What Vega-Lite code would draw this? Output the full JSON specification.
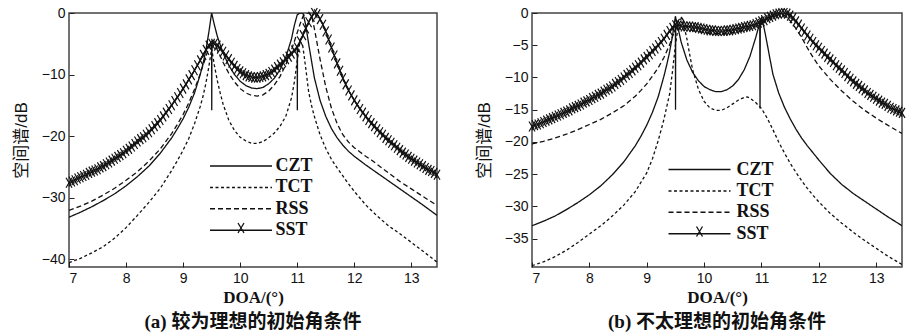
{
"$schema":"https://vega.github.io/schema/vega-lite/v6.json",
"background":"white",
"padding":{"left":11,"top":4,"right":2,"bottom":2},
"config":{
 "view":{"stroke":"#444","strokeWidth":1.5},
 "axis":{"grid":false,"domain":false,"tickColor":"#222","tickSize":-5,"labelPadding":9,"labelFont":"Liberation Sans","labelFontSize":14,"labelColor":"#111","titleColor":"#111"}
},
"datasets":{
"a":[
{"s":"CZT","x":7.0,"y":-33.2},{"s":"CZT","x":7.2,"y":-32.4},{"s":"CZT","x":7.4,"y":-31.5},{"s":"CZT","x":7.6,"y":-30.5},{"s":"CZT","x":7.8,"y":-29.4},{"s":"CZT","x":8.0,"y":-28.1},{"s":"CZT","x":8.2,"y":-26.6},{"s":"CZT","x":8.4,"y":-24.9},{"s":"CZT","x":8.6,"y":-22.8},{"s":"CZT","x":8.8,"y":-20.3},{"s":"CZT","x":8.9,"y":-18.8},{"s":"CZT","x":9.0,"y":-17.2},{"s":"CZT","x":9.1,"y":-15.3},{"s":"CZT","x":9.2,"y":-13.0},{"s":"CZT","x":9.3,"y":-10.0},{"s":"CZT","x":9.35,"y":-8.2},{"s":"CZT","x":9.4,"y":-6.0},{"s":"CZT","x":9.45,"y":-3.2},{"s":"CZT","x":9.5,"y":0},{"s":"CZT","x":9.55,"y":-2.0},{"s":"CZT","x":9.6,"y":-3.8},{"s":"CZT","x":9.7,"y":-6.5},{"s":"CZT","x":9.8,"y":-8.5},{"s":"CZT","x":9.9,"y":-10.0},{"s":"CZT","x":10.0,"y":-11.1},{"s":"CZT","x":10.1,"y":-11.8},{"s":"CZT","x":10.2,"y":-12.2},{"s":"CZT","x":10.3,"y":-12.3},{"s":"CZT","x":10.4,"y":-12.1},{"s":"CZT","x":10.5,"y":-11.5},{"s":"CZT","x":10.6,"y":-10.6},{"s":"CZT","x":10.7,"y":-9.2},{"s":"CZT","x":10.8,"y":-7.2},{"s":"CZT","x":10.9,"y":-4.2},{"s":"CZT","x":10.95,"y":-2.0},{"s":"CZT","x":11.0,"y":-0.3},{"s":"CZT","x":11.05,"y":0},{"s":"CZT","x":11.1,"y":0},{"s":"CZT","x":11.15,"y":-2.0},{"s":"CZT","x":11.2,"y":-5.0},{"s":"CZT","x":11.3,"y":-10.5},{"s":"CZT","x":11.4,"y":-14.2},{"s":"CZT","x":11.5,"y":-16.8},{"s":"CZT","x":11.6,"y":-18.8},{"s":"CZT","x":11.7,"y":-20.3},{"s":"CZT","x":11.8,"y":-21.5},{"s":"CZT","x":11.9,"y":-22.5},{"s":"CZT","x":12.0,"y":-23.3},{"s":"CZT","x":12.2,"y":-24.7},{"s":"CZT","x":12.4,"y":-26.0},{"s":"CZT","x":12.6,"y":-27.3},{"s":"CZT","x":12.8,"y":-28.6},{"s":"CZT","x":13.0,"y":-29.9},{"s":"CZT","x":13.2,"y":-31.2},{"s":"CZT","x":13.45,"y":-32.9},
{"s":"TCT","x":7.0,"y":-40.6},{"s":"TCT","x":7.2,"y":-39.9},{"s":"TCT","x":7.4,"y":-39.0},{"s":"TCT","x":7.6,"y":-38.0},{"s":"TCT","x":7.8,"y":-36.6},{"s":"TCT","x":8.0,"y":-34.9},{"s":"TCT","x":8.2,"y":-32.9},{"s":"TCT","x":8.4,"y":-30.8},{"s":"TCT","x":8.6,"y":-28.5},{"s":"TCT","x":8.8,"y":-25.6},{"s":"TCT","x":8.9,"y":-24.0},{"s":"TCT","x":9.0,"y":-22.3},{"s":"TCT","x":9.1,"y":-20.4},{"s":"TCT","x":9.2,"y":-18.0},{"s":"TCT","x":9.3,"y":-15.2},{"s":"TCT","x":9.35,"y":-13.5},{"s":"TCT","x":9.4,"y":-11.4},{"s":"TCT","x":9.45,"y":-8.8},{"s":"TCT","x":9.5,"y":-5.8},{"s":"TCT","x":9.55,"y":-8.6},{"s":"TCT","x":9.6,"y":-11.0},{"s":"TCT","x":9.65,"y":-13.0},{"s":"TCT","x":9.7,"y":-14.8},{"s":"TCT","x":9.8,"y":-17.4},{"s":"TCT","x":9.9,"y":-19.1},{"s":"TCT","x":10.0,"y":-20.2},{"s":"TCT","x":10.1,"y":-20.8},{"s":"TCT","x":10.2,"y":-21.2},{"s":"TCT","x":10.3,"y":-21.2},{"s":"TCT","x":10.4,"y":-20.9},{"s":"TCT","x":10.5,"y":-20.3},{"s":"TCT","x":10.6,"y":-19.5},{"s":"TCT","x":10.7,"y":-18.4},{"s":"TCT","x":10.8,"y":-16.8},{"s":"TCT","x":10.9,"y":-13.8},{"s":"TCT","x":10.95,"y":-11.2},{"s":"TCT","x":11.0,"y":-7.8},{"s":"TCT","x":11.05,"y":-4.5},{"s":"TCT","x":11.1,"y":-5.5},{"s":"TCT","x":11.15,"y":-9.0},{"s":"TCT","x":11.2,"y":-12.8},{"s":"TCT","x":11.25,"y":-15.0},{"s":"TCT","x":11.3,"y":-16.8},{"s":"TCT","x":11.4,"y":-19.8},{"s":"TCT","x":11.5,"y":-22.0},{"s":"TCT","x":11.6,"y":-23.8},{"s":"TCT","x":11.7,"y":-25.2},{"s":"TCT","x":11.8,"y":-26.5},{"s":"TCT","x":11.9,"y":-27.8},{"s":"TCT","x":12.0,"y":-29.0},{"s":"TCT","x":12.2,"y":-31.2},{"s":"TCT","x":12.4,"y":-33.0},{"s":"TCT","x":12.6,"y":-34.6},{"s":"TCT","x":12.8,"y":-35.9},{"s":"TCT","x":13.0,"y":-37.3},{"s":"TCT","x":13.2,"y":-38.7},{"s":"TCT","x":13.45,"y":-40.5},
{"s":"RSS","x":7.0,"y":-32.1},{"s":"RSS","x":7.2,"y":-31.4},{"s":"RSS","x":7.4,"y":-30.6},{"s":"RSS","x":7.6,"y":-29.6},{"s":"RSS","x":7.8,"y":-28.5},{"s":"RSS","x":8.0,"y":-27.2},{"s":"RSS","x":8.2,"y":-25.8},{"s":"RSS","x":8.4,"y":-24.1},{"s":"RSS","x":8.6,"y":-22.1},{"s":"RSS","x":8.8,"y":-19.6},{"s":"RSS","x":8.9,"y":-18.1},{"s":"RSS","x":9.0,"y":-16.5},{"s":"RSS","x":9.1,"y":-14.6},{"s":"RSS","x":9.2,"y":-12.4},{"s":"RSS","x":9.3,"y":-9.9},{"s":"RSS","x":9.4,"y":-7.1},{"s":"RSS","x":9.45,"y":-5.6},{"s":"RSS","x":9.5,"y":-4.5},{"s":"RSS","x":9.55,"y":-5.0},{"s":"RSS","x":9.6,"y":-6.0},{"s":"RSS","x":9.7,"y":-8.0},{"s":"RSS","x":9.8,"y":-9.8},{"s":"RSS","x":9.9,"y":-11.2},{"s":"RSS","x":10.0,"y":-12.3},{"s":"RSS","x":10.1,"y":-13.0},{"s":"RSS","x":10.2,"y":-13.4},{"s":"RSS","x":10.3,"y":-13.5},{"s":"RSS","x":10.4,"y":-13.3},{"s":"RSS","x":10.5,"y":-12.7},{"s":"RSS","x":10.6,"y":-11.7},{"s":"RSS","x":10.7,"y":-10.3},{"s":"RSS","x":10.8,"y":-8.4},{"s":"RSS","x":10.9,"y":-6.0},{"s":"RSS","x":11.0,"y":-3.2},{"s":"RSS","x":11.05,"y":-1.8},{"s":"RSS","x":11.1,"y":-0.6},{"s":"RSS","x":11.15,"y":0},{"s":"RSS","x":11.2,"y":0},{"s":"RSS","x":11.25,"y":-0.3},{"s":"RSS","x":11.3,"y":-2.5},{"s":"RSS","x":11.4,"y":-7.5},{"s":"RSS","x":11.5,"y":-12.0},{"s":"RSS","x":11.6,"y":-15.5},{"s":"RSS","x":11.7,"y":-18.0},{"s":"RSS","x":11.8,"y":-19.8},{"s":"RSS","x":11.9,"y":-21.0},{"s":"RSS","x":12.0,"y":-21.9},{"s":"RSS","x":12.1,"y":-22.6},{"s":"RSS","x":12.2,"y":-23.3},{"s":"RSS","x":12.3,"y":-23.9},{"s":"RSS","x":12.4,"y":-24.6},{"s":"RSS","x":12.6,"y":-26.0},{"s":"RSS","x":12.8,"y":-27.4},{"s":"RSS","x":13.0,"y":-28.6},{"s":"RSS","x":13.2,"y":-29.8},{"s":"RSS","x":13.45,"y":-31.3},
{"s":"SST","x":7.0,"y":-27.6},{"s":"SST","x":7.05,"y":-27.4},{"s":"SST","x":7.1,"y":-27.2},{"s":"SST","x":7.15,"y":-26.9},{"s":"SST","x":7.2,"y":-26.7},{"s":"SST","x":7.25,"y":-26.5},{"s":"SST","x":7.3,"y":-26.3},{"s":"SST","x":7.35,"y":-26.0},{"s":"SST","x":7.4,"y":-25.8},{"s":"SST","x":7.45,"y":-25.6},{"s":"SST","x":7.5,"y":-25.4},{"s":"SST","x":7.55,"y":-25.1},{"s":"SST","x":7.6,"y":-24.9},{"s":"SST","x":7.65,"y":-24.6},{"s":"SST","x":7.7,"y":-24.3},{"s":"SST","x":7.75,"y":-24.0},{"s":"SST","x":7.8,"y":-23.7},{"s":"SST","x":7.85,"y":-23.4},{"s":"SST","x":7.9,"y":-23.1},{"s":"SST","x":7.95,"y":-22.8},{"s":"SST","x":8.0,"y":-22.4},{"s":"SST","x":8.05,"y":-22.1},{"s":"SST","x":8.1,"y":-21.7},{"s":"SST","x":8.15,"y":-21.3},{"s":"SST","x":8.2,"y":-20.9},{"s":"SST","x":8.25,"y":-20.5},{"s":"SST","x":8.3,"y":-20.2},{"s":"SST","x":8.35,"y":-19.8},{"s":"SST","x":8.4,"y":-19.4},{"s":"SST","x":8.45,"y":-18.9},{"s":"SST","x":8.5,"y":-18.4},{"s":"SST","x":8.55,"y":-17.9},{"s":"SST","x":8.6,"y":-17.4},{"s":"SST","x":8.65,"y":-16.8},{"s":"SST","x":8.7,"y":-16.2},{"s":"SST","x":8.75,"y":-15.6},{"s":"SST","x":8.8,"y":-15.0},{"s":"SST","x":8.85,"y":-14.3},{"s":"SST","x":8.9,"y":-13.7},{"s":"SST","x":8.95,"y":-13.0},{"s":"SST","x":9.0,"y":-12.3},{"s":"SST","x":9.05,"y":-11.6},{"s":"SST","x":9.1,"y":-10.8},{"s":"SST","x":9.15,"y":-10.1},{"s":"SST","x":9.2,"y":-9.3},{"s":"SST","x":9.25,"y":-8.5},{"s":"SST","x":9.3,"y":-7.7},{"s":"SST","x":9.35,"y":-6.8},{"s":"SST","x":9.4,"y":-6.0},{"s":"SST","x":9.45,"y":-5.3},{"s":"SST","x":9.5,"y":-5.0},{"s":"SST","x":9.502,"y":-15.8},{"s":"SST","x":9.505,"y":-5.0},{"s":"SST","x":9.55,"y":-5.0},{"s":"SST","x":9.6,"y":-5.3},{"s":"SST","x":9.65,"y":-5.8},{"s":"SST","x":9.7,"y":-6.3},{"s":"SST","x":9.75,"y":-6.9},{"s":"SST","x":9.8,"y":-7.5},{"s":"SST","x":9.85,"y":-8.1},{"s":"SST","x":9.9,"y":-8.6},{"s":"SST","x":9.95,"y":-9.1},{"s":"SST","x":10.0,"y":-9.5},{"s":"SST","x":10.05,"y":-9.8},{"s":"SST","x":10.1,"y":-10.1},{"s":"SST","x":10.15,"y":-10.3},{"s":"SST","x":10.2,"y":-10.4},{"s":"SST","x":10.25,"y":-10.5},{"s":"SST","x":10.3,"y":-10.5},{"s":"SST","x":10.35,"y":-10.4},{"s":"SST","x":10.4,"y":-10.3},{"s":"SST","x":10.45,"y":-10.1},{"s":"SST","x":10.5,"y":-9.9},{"s":"SST","x":10.55,"y":-9.6},{"s":"SST","x":10.6,"y":-9.2},{"s":"SST","x":10.65,"y":-8.8},{"s":"SST","x":10.7,"y":-8.4},{"s":"SST","x":10.75,"y":-8.0},{"s":"SST","x":10.8,"y":-7.5},{"s":"SST","x":10.85,"y":-7.1},{"s":"SST","x":10.9,"y":-6.6},{"s":"SST","x":10.95,"y":-6.1},{"s":"SST","x":11.0,"y":-5.6},{"s":"SST","x":11.002,"y":-15.8},{"s":"SST","x":11.005,"y":-5.6},{"s":"SST","x":11.05,"y":-4.6},{"s":"SST","x":11.1,"y":-3.6},{"s":"SST","x":11.15,"y":-2.5},{"s":"SST","x":11.2,"y":-1.5},{"s":"SST","x":11.25,"y":-0.6},{"s":"SST","x":11.3,"y":0},{"s":"SST","x":11.35,"y":-0.2},{"s":"SST","x":11.4,"y":-1.0},{"s":"SST","x":11.45,"y":-1.9},{"s":"SST","x":11.5,"y":-3.0},{"s":"SST","x":11.55,"y":-4.3},{"s":"SST","x":11.6,"y":-5.6},{"s":"SST","x":11.65,"y":-6.9},{"s":"SST","x":11.7,"y":-8.2},{"s":"SST","x":11.75,"y":-9.4},{"s":"SST","x":11.8,"y":-10.6},{"s":"SST","x":11.85,"y":-11.6},{"s":"SST","x":11.9,"y":-12.6},{"s":"SST","x":11.95,"y":-13.4},{"s":"SST","x":12.0,"y":-14.2},{"s":"SST","x":12.05,"y":-14.9},{"s":"SST","x":12.1,"y":-15.6},{"s":"SST","x":12.15,"y":-16.2},{"s":"SST","x":12.2,"y":-16.8},{"s":"SST","x":12.25,"y":-17.4},{"s":"SST","x":12.3,"y":-17.9},{"s":"SST","x":12.35,"y":-18.4},{"s":"SST","x":12.4,"y":-18.9},{"s":"SST","x":12.45,"y":-19.4},{"s":"SST","x":12.5,"y":-19.8},{"s":"SST","x":12.55,"y":-20.3},{"s":"SST","x":12.6,"y":-20.7},{"s":"SST","x":12.65,"y":-21.1},{"s":"SST","x":12.7,"y":-21.5},{"s":"SST","x":12.75,"y":-21.9},{"s":"SST","x":12.8,"y":-22.3},{"s":"SST","x":12.85,"y":-22.7},{"s":"SST","x":12.9,"y":-23.0},{"s":"SST","x":12.95,"y":-23.4},{"s":"SST","x":13.0,"y":-23.7},{"s":"SST","x":13.05,"y":-24.0},{"s":"SST","x":13.1,"y":-24.3},{"s":"SST","x":13.15,"y":-24.6},{"s":"SST","x":13.2,"y":-24.9},{"s":"SST","x":13.25,"y":-25.2},{"s":"SST","x":13.3,"y":-25.5},{"s":"SST","x":13.35,"y":-25.7},{"s":"SST","x":13.4,"y":-26.0},{"s":"SST","x":13.45,"y":-26.3}
],
"b":[
{"s":"CZT","x":7.0,"y":-33.0},{"s":"CZT","x":7.2,"y":-32.3},{"s":"CZT","x":7.4,"y":-31.5},{"s":"CZT","x":7.6,"y":-30.5},{"s":"CZT","x":7.8,"y":-29.4},{"s":"CZT","x":8.0,"y":-28.2},{"s":"CZT","x":8.2,"y":-26.8},{"s":"CZT","x":8.4,"y":-25.1},{"s":"CZT","x":8.6,"y":-23.1},{"s":"CZT","x":8.8,"y":-20.6},{"s":"CZT","x":8.9,"y":-19.1},{"s":"CZT","x":9.0,"y":-17.4},{"s":"CZT","x":9.1,"y":-15.4},{"s":"CZT","x":9.2,"y":-13.0},{"s":"CZT","x":9.3,"y":-9.8},{"s":"CZT","x":9.35,"y":-8.0},{"s":"CZT","x":9.4,"y":-6.0},{"s":"CZT","x":9.45,"y":-3.5},{"s":"CZT","x":9.5,"y":-0.5},{"s":"CZT","x":9.55,"y":-2.5},{"s":"CZT","x":9.6,"y":-4.5},{"s":"CZT","x":9.7,"y":-7.3},{"s":"CZT","x":9.8,"y":-9.2},{"s":"CZT","x":9.9,"y":-10.5},{"s":"CZT","x":10.0,"y":-11.4},{"s":"CZT","x":10.1,"y":-11.9},{"s":"CZT","x":10.2,"y":-12.2},{"s":"CZT","x":10.3,"y":-12.2},{"s":"CZT","x":10.4,"y":-11.9},{"s":"CZT","x":10.5,"y":-11.3},{"s":"CZT","x":10.6,"y":-10.3},{"s":"CZT","x":10.7,"y":-8.8},{"s":"CZT","x":10.8,"y":-6.7},{"s":"CZT","x":10.9,"y":-3.8},{"s":"CZT","x":10.95,"y":-2.2},{"s":"CZT","x":11.0,"y":-0.8},{"s":"CZT","x":11.05,"y":-2.5},{"s":"CZT","x":11.1,"y":-4.8},{"s":"CZT","x":11.15,"y":-7.2},{"s":"CZT","x":11.2,"y":-9.5},{"s":"CZT","x":11.3,"y":-12.4},{"s":"CZT","x":11.4,"y":-14.6},{"s":"CZT","x":11.5,"y":-16.4},{"s":"CZT","x":11.6,"y":-18.0},{"s":"CZT","x":11.7,"y":-19.4},{"s":"CZT","x":11.8,"y":-20.6},{"s":"CZT","x":11.9,"y":-21.7},{"s":"CZT","x":12.0,"y":-22.8},{"s":"CZT","x":12.2,"y":-24.9},{"s":"CZT","x":12.4,"y":-26.6},{"s":"CZT","x":12.6,"y":-28.0},{"s":"CZT","x":12.8,"y":-29.2},{"s":"CZT","x":13.0,"y":-30.4},{"s":"CZT","x":13.2,"y":-31.6},{"s":"CZT","x":13.45,"y":-33.0},
{"s":"TCT","x":7.0,"y":-39.2},{"s":"TCT","x":7.2,"y":-38.6},{"s":"TCT","x":7.4,"y":-37.8},{"s":"TCT","x":7.6,"y":-36.8},{"s":"TCT","x":7.8,"y":-35.6},{"s":"TCT","x":8.0,"y":-34.3},{"s":"TCT","x":8.2,"y":-33.0},{"s":"TCT","x":8.4,"y":-31.5},{"s":"TCT","x":8.6,"y":-29.8},{"s":"TCT","x":8.8,"y":-27.7},{"s":"TCT","x":9.0,"y":-24.8},{"s":"TCT","x":9.1,"y":-22.6},{"s":"TCT","x":9.2,"y":-19.8},{"s":"TCT","x":9.3,"y":-16.5},{"s":"TCT","x":9.4,"y":-12.5},{"s":"TCT","x":9.45,"y":-9.0},{"s":"TCT","x":9.5,"y":-5.0},{"s":"TCT","x":9.55,"y":-2.0},{"s":"TCT","x":9.6,"y":-0.8},{"s":"TCT","x":9.65,"y":-2.0},{"s":"TCT","x":9.7,"y":-4.0},{"s":"TCT","x":9.75,"y":-6.5},{"s":"TCT","x":9.8,"y":-8.8},{"s":"TCT","x":9.9,"y":-11.8},{"s":"TCT","x":10.0,"y":-13.7},{"s":"TCT","x":10.1,"y":-14.7},{"s":"TCT","x":10.2,"y":-15.1},{"s":"TCT","x":10.3,"y":-15.1},{"s":"TCT","x":10.4,"y":-14.7},{"s":"TCT","x":10.5,"y":-14.1},{"s":"TCT","x":10.6,"y":-13.5},{"s":"TCT","x":10.7,"y":-13.1},{"s":"TCT","x":10.75,"y":-13.0},{"s":"TCT","x":10.8,"y":-13.2},{"s":"TCT","x":10.9,"y":-13.9},{"s":"TCT","x":11.0,"y":-14.8},{"s":"TCT","x":11.1,"y":-16.3},{"s":"TCT","x":11.2,"y":-18.1},{"s":"TCT","x":11.3,"y":-20.0},{"s":"TCT","x":11.4,"y":-21.7},{"s":"TCT","x":11.5,"y":-23.3},{"s":"TCT","x":11.6,"y":-24.7},{"s":"TCT","x":11.7,"y":-26.0},{"s":"TCT","x":11.8,"y":-27.2},{"s":"TCT","x":11.9,"y":-28.3},{"s":"TCT","x":12.0,"y":-29.3},{"s":"TCT","x":12.2,"y":-31.1},{"s":"TCT","x":12.4,"y":-32.6},{"s":"TCT","x":12.6,"y":-34.0},{"s":"TCT","x":12.8,"y":-35.3},{"s":"TCT","x":13.0,"y":-36.5},{"s":"TCT","x":13.2,"y":-37.7},{"s":"TCT","x":13.45,"y":-39.0},
{"s":"RSS","x":7.0,"y":-20.3},{"s":"RSS","x":7.2,"y":-19.9},{"s":"RSS","x":7.4,"y":-19.4},{"s":"RSS","x":7.6,"y":-18.8},{"s":"RSS","x":7.8,"y":-18.1},{"s":"RSS","x":8.0,"y":-17.3},{"s":"RSS","x":8.2,"y":-16.5},{"s":"RSS","x":8.4,"y":-15.5},{"s":"RSS","x":8.6,"y":-14.4},{"s":"RSS","x":8.8,"y":-12.9},{"s":"RSS","x":8.9,"y":-12.0},{"s":"RSS","x":9.0,"y":-11.0},{"s":"RSS","x":9.1,"y":-9.8},{"s":"RSS","x":9.2,"y":-8.5},{"s":"RSS","x":9.3,"y":-6.9},{"s":"RSS","x":9.4,"y":-4.9},{"s":"RSS","x":9.45,"y":-3.6},{"s":"RSS","x":9.5,"y":-2.6},{"s":"RSS","x":9.55,"y":-1.2},{"s":"RSS","x":9.6,"y":-0.6},{"s":"RSS","x":9.65,"y":-1.3},{"s":"RSS","x":9.7,"y":-2.3},{"s":"RSS","x":9.8,"y":-2.7},{"s":"RSS","x":9.9,"y":-2.9},{"s":"RSS","x":10.0,"y":-3.0},{"s":"RSS","x":10.1,"y":-3.1},{"s":"RSS","x":10.2,"y":-3.2},{"s":"RSS","x":10.3,"y":-3.2},{"s":"RSS","x":10.4,"y":-3.1},{"s":"RSS","x":10.5,"y":-3.0},{"s":"RSS","x":10.6,"y":-2.8},{"s":"RSS","x":10.7,"y":-2.6},{"s":"RSS","x":10.8,"y":-2.3},{"s":"RSS","x":10.9,"y":-2.0},{"s":"RSS","x":11.0,"y":-1.6},{"s":"RSS","x":11.1,"y":-1.1},{"s":"RSS","x":11.2,"y":-0.6},{"s":"RSS","x":11.3,"y":-0.3},{"s":"RSS","x":11.35,"y":-0.2},{"s":"RSS","x":11.4,"y":-0.4},{"s":"RSS","x":11.5,"y":-1.2},{"s":"RSS","x":11.6,"y":-2.4},{"s":"RSS","x":11.7,"y":-3.8},{"s":"RSS","x":11.8,"y":-5.4},{"s":"RSS","x":11.9,"y":-6.9},{"s":"RSS","x":12.0,"y":-8.2},{"s":"RSS","x":12.2,"y":-10.3},{"s":"RSS","x":12.4,"y":-12.1},{"s":"RSS","x":12.6,"y":-13.7},{"s":"RSS","x":12.8,"y":-15.1},{"s":"RSS","x":13.0,"y":-16.3},{"s":"RSS","x":13.2,"y":-17.4},{"s":"RSS","x":13.45,"y":-18.7},
{"s":"SST","x":7.0,"y":-17.6},{"s":"SST","x":7.05,"y":-17.4},{"s":"SST","x":7.1,"y":-17.3},{"s":"SST","x":7.15,"y":-17.1},{"s":"SST","x":7.2,"y":-16.9},{"s":"SST","x":7.25,"y":-16.7},{"s":"SST","x":7.3,"y":-16.5},{"s":"SST","x":7.35,"y":-16.3},{"s":"SST","x":7.4,"y":-16.1},{"s":"SST","x":7.45,"y":-15.9},{"s":"SST","x":7.5,"y":-15.7},{"s":"SST","x":7.55,"y":-15.5},{"s":"SST","x":7.6,"y":-15.3},{"s":"SST","x":7.65,"y":-15.1},{"s":"SST","x":7.7,"y":-14.8},{"s":"SST","x":7.75,"y":-14.6},{"s":"SST","x":7.8,"y":-14.4},{"s":"SST","x":7.85,"y":-14.2},{"s":"SST","x":7.9,"y":-13.9},{"s":"SST","x":7.95,"y":-13.7},{"s":"SST","x":8.0,"y":-13.5},{"s":"SST","x":8.05,"y":-13.2},{"s":"SST","x":8.1,"y":-13.0},{"s":"SST","x":8.15,"y":-12.7},{"s":"SST","x":8.2,"y":-12.5},{"s":"SST","x":8.25,"y":-12.2},{"s":"SST","x":8.3,"y":-11.9},{"s":"SST","x":8.35,"y":-11.7},{"s":"SST","x":8.4,"y":-11.4},{"s":"SST","x":8.45,"y":-11.0},{"s":"SST","x":8.5,"y":-10.7},{"s":"SST","x":8.55,"y":-10.4},{"s":"SST","x":8.6,"y":-10.0},{"s":"SST","x":8.65,"y":-9.6},{"s":"SST","x":8.7,"y":-9.3},{"s":"SST","x":8.75,"y":-8.9},{"s":"SST","x":8.8,"y":-8.5},{"s":"SST","x":8.85,"y":-8.1},{"s":"SST","x":8.9,"y":-7.7},{"s":"SST","x":8.95,"y":-7.2},{"s":"SST","x":9.0,"y":-6.8},{"s":"SST","x":9.05,"y":-6.4},{"s":"SST","x":9.1,"y":-5.9},{"s":"SST","x":9.15,"y":-5.5},{"s":"SST","x":9.2,"y":-5.0},{"s":"SST","x":9.25,"y":-4.5},{"s":"SST","x":9.3,"y":-4.0},{"s":"SST","x":9.35,"y":-3.4},{"s":"SST","x":9.4,"y":-2.8},{"s":"SST","x":9.45,"y":-2.3},{"s":"SST","x":9.5,"y":-1.9},{"s":"SST","x":9.502,"y":-15.0},{"s":"SST","x":9.505,"y":-1.9},{"s":"SST","x":9.55,"y":-1.9},{"s":"SST","x":9.6,"y":-2.0},{"s":"SST","x":9.65,"y":-2.1},{"s":"SST","x":9.7,"y":-2.1},{"s":"SST","x":9.75,"y":-2.1},{"s":"SST","x":9.8,"y":-2.2},{"s":"SST","x":9.85,"y":-2.2},{"s":"SST","x":9.9,"y":-2.3},{"s":"SST","x":9.95,"y":-2.4},{"s":"SST","x":10.0,"y":-2.5},{"s":"SST","x":10.05,"y":-2.6},{"s":"SST","x":10.1,"y":-2.7},{"s":"SST","x":10.15,"y":-2.7},{"s":"SST","x":10.2,"y":-2.8},{"s":"SST","x":10.25,"y":-2.8},{"s":"SST","x":10.3,"y":-2.8},{"s":"SST","x":10.35,"y":-2.8},{"s":"SST","x":10.4,"y":-2.7},{"s":"SST","x":10.45,"y":-2.7},{"s":"SST","x":10.5,"y":-2.6},{"s":"SST","x":10.55,"y":-2.5},{"s":"SST","x":10.6,"y":-2.4},{"s":"SST","x":10.65,"y":-2.3},{"s":"SST","x":10.7,"y":-2.2},{"s":"SST","x":10.75,"y":-2.1},{"s":"SST","x":10.8,"y":-2.0},{"s":"SST","x":10.85,"y":-1.9},{"s":"SST","x":10.9,"y":-1.7},{"s":"SST","x":10.95,"y":-1.5},{"s":"SST","x":10.97,"y":-1.45},{"s":"SST","x":10.975,"y":-14.8},{"s":"SST","x":10.98,"y":-1.4},{"s":"SST","x":11.0,"y":-1.3},{"s":"SST","x":11.05,"y":-1.1},{"s":"SST","x":11.1,"y":-0.8},{"s":"SST","x":11.15,"y":-0.6},{"s":"SST","x":11.2,"y":-0.4},{"s":"SST","x":11.25,"y":-0.2},{"s":"SST","x":11.3,"y":-0.1},{"s":"SST","x":11.35,"y":0},{"s":"SST","x":11.4,"y":0},{"s":"SST","x":11.45,"y":-0.1},{"s":"SST","x":11.5,"y":-0.4},{"s":"SST","x":11.55,"y":-0.8},{"s":"SST","x":11.6,"y":-1.3},{"s":"SST","x":11.65,"y":-1.8},{"s":"SST","x":11.7,"y":-2.4},{"s":"SST","x":11.75,"y":-2.9},{"s":"SST","x":11.8,"y":-3.5},{"s":"SST","x":11.85,"y":-4.0},{"s":"SST","x":11.9,"y":-4.5},{"s":"SST","x":11.95,"y":-5.0},{"s":"SST","x":12.0,"y":-5.4},{"s":"SST","x":12.05,"y":-5.9},{"s":"SST","x":12.1,"y":-6.3},{"s":"SST","x":12.15,"y":-6.8},{"s":"SST","x":12.2,"y":-7.2},{"s":"SST","x":12.25,"y":-7.6},{"s":"SST","x":12.3,"y":-8.1},{"s":"SST","x":12.35,"y":-8.5},{"s":"SST","x":12.4,"y":-8.9},{"s":"SST","x":12.45,"y":-9.3},{"s":"SST","x":12.5,"y":-9.8},{"s":"SST","x":12.55,"y":-10.2},{"s":"SST","x":12.6,"y":-10.6},{"s":"SST","x":12.65,"y":-11.0},{"s":"SST","x":12.7,"y":-11.3},{"s":"SST","x":12.75,"y":-11.7},{"s":"SST","x":12.8,"y":-12.0},{"s":"SST","x":12.85,"y":-12.4},{"s":"SST","x":12.9,"y":-12.7},{"s":"SST","x":12.95,"y":-13.0},{"s":"SST","x":13.0,"y":-13.3},{"s":"SST","x":13.05,"y":-13.6},{"s":"SST","x":13.1,"y":-13.9},{"s":"SST","x":13.15,"y":-14.1},{"s":"SST","x":13.2,"y":-14.4},{"s":"SST","x":13.25,"y":-14.7},{"s":"SST","x":13.3,"y":-14.9},{"s":"SST","x":13.35,"y":-15.1},{"s":"SST","x":13.4,"y":-15.3},{"s":"SST","x":13.45,"y":-15.5}
]
},
"spacing":30,
"resolve":{"scale":{"x":"independent","y":"independent"},"legend":{"strokeDash":"independent","shape":"independent"}},
"hconcat":[
{
 "width":368,"height":254,
 "data":{"name":"a"},
 "title":{"text":"(a) 较为理想的初始角条件","orient":"bottom","font":"Liberation Serif, Noto Sans CJK SC","fontSize":19,"fontWeight":"bold","color":"#111","offset":8},
 "encoding":{
  "x":{"field":"x","type":"quantitative","scale":{"domain":[7,13.45],"nice":false,"zero":false},"axis":{"values":[7,8,9,10,11,12,13],"title":"DOA/(°)","titleFont":"Liberation Serif","titleFontSize":17,"titleFontWeight":"bold","titlePadding":4}},
  "y":{"field":"y","type":"quantitative","scale":{"domain":[-41.3,0],"nice":false},"axis":{"values":[0,-10,-20,-30,-40],"title":"空间谱/dB","titleFont":"Liberation Sans, Noto Sans CJK SC","titleFontSize":17,"titleFontWeight":"normal","titlePadding":11}}
 },
 "layer":[
  {"mark":{"type":"line","color":"#111","strokeWidth":1.3,"clip":true},
   "encoding":{"strokeDash":{"field":"s","type":"nominal","scale":{"domain":["CZT","TCT","RSS","SST"],"range":[[1,0],[3,2.5],[5,3],[1,0]]},
    "legend":{"title":null,"orient":"none","legendX":161,"legendY":142,"symbolType":"M-3.1,0H3.1","symbolSize":400,"symbolStrokeWidth":1.5,"symbolStrokeColor":"#111","labelFont":"Liberation Serif","labelFontSize":18,"labelFontWeight":"bold","labelColor":"#111","labelOffset":23.5,"rowPadding":1.4}}}},
  {"transform":[{"filter":"datum.s == 'SST' && abs(datum.x*20 - round(datum.x*20)) < 0.001"}],
   "mark":{"type":"point","size":100,"filled":false,"color":"#111","strokeWidth":1.2,"opacity":1},
   "encoding":{"shape":{"field":"s","type":"nominal","scale":{"domain":["SST"],"range":["M-0.6,-1L0.6,1M-0.6,1L0.6,-1"]},
    "legend":{"title":null,"orient":"none","legendX":166,"legendY":209,"symbolSize":100,"symbolStrokeWidth":1.3,"symbolStrokeColor":"#111","symbolFillColor":"transparent","labelExpr":"''","labelFontSize":8}}}}
 ]
},
{
 "width":370,"height":254,
 "data":{"name":"b"},
 "title":{"text":"(b) 不太理想的初始角条件","orient":"bottom","font":"Liberation Serif, Noto Sans CJK SC","fontSize":19,"fontWeight":"bold","color":"#111","offset":8},
 "encoding":{
  "x":{"field":"x","type":"quantitative","scale":{"domain":[7,13.45],"nice":false,"zero":false},"axis":{"values":[7,8,9,10,11,12,13],"title":"DOA/(°)","titleFont":"Liberation Serif","titleFontSize":17,"titleFontWeight":"bold","titlePadding":4}},
  "y":{"field":"y","type":"quantitative","scale":{"domain":[-39.4,0],"nice":false},"axis":{"values":[0,-5,-10,-15,-20,-25,-30,-35],"title":"空间谱/dB","titleFont":"Liberation Sans, Noto Sans CJK SC","titleFontSize":17,"titleFontWeight":"normal","titlePadding":11}}
 },
 "layer":[
  {"mark":{"type":"line","color":"#111","strokeWidth":1.3,"clip":true},
   "encoding":{"strokeDash":{"field":"s","type":"nominal","scale":{"domain":["CZT","TCT","RSS","SST"],"range":[[1,0],[3,2.5],[5,3],[1,0]]},
    "legend":{"title":null,"orient":"none","legendX":156.5,"legendY":145.5,"symbolType":"M-3.1,0H3.1","symbolSize":400,"symbolStrokeWidth":1.5,"symbolStrokeColor":"#111","labelFont":"Liberation Serif","labelFontSize":18,"labelFontWeight":"bold","labelColor":"#111","labelOffset":26,"rowPadding":1.4}}}},
  {"transform":[{"filter":"datum.s == 'SST' && abs(datum.x*20 - round(datum.x*20)) < 0.001"}],
   "mark":{"type":"point","size":100,"filled":false,"color":"#111","strokeWidth":1.2,"opacity":1},
   "encoding":{"shape":{"field":"s","type":"nominal","scale":{"domain":["SST"],"range":["M-0.6,-1L0.6,1M-0.6,1L0.6,-1"]},
    "legend":{"title":null,"orient":"none","legendX":161.5,"legendY":212.5,"symbolSize":100,"symbolStrokeWidth":1.3,"symbolStrokeColor":"#111","symbolFillColor":"transparent","labelExpr":"''","labelFontSize":8}}}}
 ]
}
]
}
